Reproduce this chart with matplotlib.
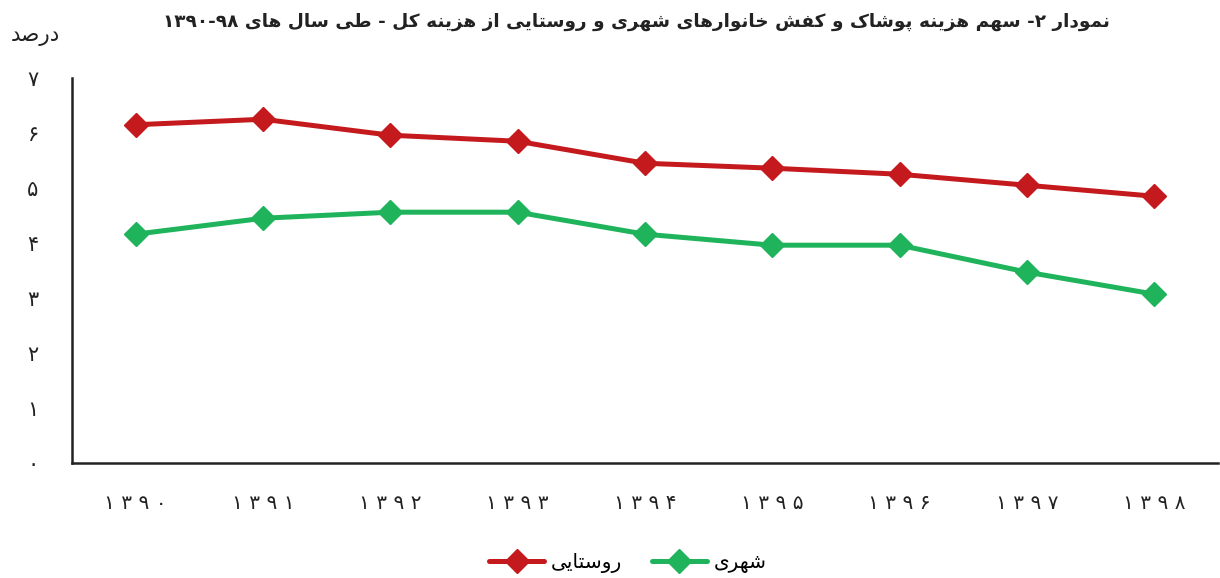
import matplotlib
matplotlib.use("Agg")
import matplotlib.pyplot as plt

# ---------------- data ----------------
years = ["۱۳۹۰", "۱۳۹۱", "۱۳۹۲", "۱۳۹۳", "۱۳۹۴", "۱۳۹۵", "۱۳۹۶", "۱۳۹۷", "۱۳۹۸"]
rural = [6.15, 6.25, 5.96, 5.85, 5.45, 5.36, 5.25, 5.05, 4.85]
urban = [4.16, 4.45, 4.56, 4.56, 4.16, 3.96, 3.96, 3.47, 3.07]
ytick_vals = [0, 1, 2, 3, 4, 5, 6, 7]
ytick_labels = ["۰", "۱", "۲", "۳", "۴", "۵", "۶", "۷"]
title_text = "نمودار ۲- سهم هزینه پوشاک و کفش خانوارهای شهری و روستایی از هزینه کل - طی سال های ۹۸-۱۳۹۰"
ylabel_text = "درصد"
rural_label = "روستایی"
urban_label = "شهری"

# ------------- minimal Persian shaping -------------
FORMS = {
    '\u0627': ('\uFE8D', '\uFE8E', None, None),
    '\u0622': ('\uFE81', '\uFE82', None, None),
    '\u0628': ('\uFE8F', '\uFE90', '\uFE91', '\uFE92'),
    '\u067E': ('\uFB56', '\uFB57', '\uFB58', '\uFB59'),
    '\u062A': ('\uFE95', '\uFE96', '\uFE97', '\uFE98'),
    '\u062B': ('\uFE99', '\uFE9A', '\uFE9B', '\uFE9C'),
    '\u062C': ('\uFE9D', '\uFE9E', '\uFE9F', '\uFEA0'),
    '\u0686': ('\uFB7A', '\uFB7B', '\uFB7C', '\uFB7D'),
    '\u062D': ('\uFEA1', '\uFEA2', '\uFEA3', '\uFEA4'),
    '\u062E': ('\uFEA5', '\uFEA6', '\uFEA7', '\uFEA8'),
    '\u062F': ('\uFEA9', '\uFEAA', None, None),
    '\u0630': ('\uFEAB', '\uFEAC', None, None),
    '\u0631': ('\uFEAD', '\uFEAE', None, None),
    '\u0632': ('\uFEAF', '\uFEB0', None, None),
    '\u0698': ('\uFB8A', '\uFB8B', None, None),
    '\u0633': ('\uFEB1', '\uFEB2', '\uFEB3', '\uFEB4'),
    '\u0634': ('\uFEB5', '\uFEB6', '\uFEB7', '\uFEB8'),
    '\u0635': ('\uFEB9', '\uFEBA', '\uFEBB', '\uFEBC'),
    '\u0636': ('\uFEBD', '\uFEBE', '\uFEBF', '\uFEC0'),
    '\u0637': ('\uFEC1', '\uFEC2', '\uFEC3', '\uFEC4'),
    '\u0638': ('\uFEC5', '\uFEC6', '\uFEC7', '\uFEC8'),
    '\u0639': ('\uFEC9', '\uFECA', '\uFECB', '\uFECC'),
    '\u063A': ('\uFECD', '\uFECE', '\uFECF', '\uFED0'),
    '\u0641': ('\uFED1', '\uFED2', '\uFED3', '\uFED4'),
    '\u0642': ('\uFED5', '\uFED6', '\uFED7', '\uFED8'),
    '\u06A9': ('\uFB8E', '\uFB8F', '\uFB90', '\uFB91'),
    '\u06AF': ('\uFB92', '\uFB93', '\uFB94', '\uFB95'),
    '\u0644': ('\uFEDD', '\uFEDE', '\uFEDF', '\uFEE0'),
    '\u0645': ('\uFEE1', '\uFEE2', '\uFEE3', '\uFEE4'),
    '\u0646': ('\uFEE5', '\uFEE6', '\uFEE7', '\uFEE8'),
    '\u0648': ('\uFEED', '\uFEEE', None, None),
    '\u0647': ('\uFEE9', '\uFEEA', '\uFEEB', '\uFEEC'),
    '\u06CC': ('\uFBFC', '\uFBFD', '\uFBFE', '\uFBFF'),
}
DIGITS = set("۰۱۲۳۴۵۶۷۸۹0123456789")


def shape(text):
    chars = list(text)
    out = []
    for i, c in enumerate(chars):
        if c not in FORMS:
            out.append(c)
            continue
        prev = chars[i - 1] if i > 0 else None
        nxt = chars[i + 1] if i + 1 < len(chars) else None
        join_prev = prev in FORMS and FORMS[prev][2] is not None
        join_next = nxt in FORMS and FORMS[c][2] is not None
        iso, fin, ini, med = FORMS[c]
        if join_prev and join_next:
            out.append(med)
        elif join_prev:
            out.append(fin)
        elif join_next:
            out.append(ini)
        else:
            out.append(iso)
    return "".join(out)


def rtl(text):
    s = shape(text)
    runs = []
    cur = ""
    for ch in s:
        if ch in DIGITS:
            cur += ch
        else:
            if cur:
                runs.append(cur)
                cur = ""
            runs.append(ch)
    if cur:
        runs.append(cur)
    return "".join(reversed(runs))


def spaced(num):
    return " ".join(list(num))


plt.rcParams['font.family'] = ['DejaVu Sans']

RED = "#C41A1E"
GREEN = "#1FB45C"
TXT = "#222222"

fig = plt.figure(figsize=(12.2, 5.78), dpi=100)
ax = fig.add_axes([72 / 1220, 1 - 463 / 578, (1218 - 72) / 1220, (463 - 78) / 578])

x = list(range(len(years)))
ax.plot(x, rural, color=RED, lw=3.6, marker="D", markersize=12,
        label=rtl(rural_label), solid_capstyle="round")
ax.plot(x, urban, color=GREEN, lw=3.6, marker="D", markersize=12,
        label=rtl(urban_label), solid_capstyle="round")

ax.set_xlim(-0.5, len(years) - 0.5)
ax.set_ylim(0, 7)
ax.set_xticks(x)
ax.set_xticklabels([spaced(rtl(y)) for y in years], fontsize=14.5, color=TXT)
ax.set_yticks(ytick_vals)
ax.set_yticklabels([rtl(t) for t in ytick_labels], fontsize=15, color=TXT)
ax.tick_params(axis="both", length=0)
ax.tick_params(axis="x", pad=22)
ax.tick_params(axis="y", pad=24)

for side in ["top", "right"]:
    ax.spines[side].set_visible(False)
for side in ["left", "bottom"]:
    ax.spines[side].set_linewidth(1.8)
    ax.spines[side].set_color(TXT)

fig.text(636 / 1220, 1 - 22 / 578, rtl(title_text), ha="center", va="center",
         fontsize=13.3, fontweight="bold", color=TXT)
fig.text(35 / 1220, 1 - 36 / 578, rtl(ylabel_text), ha="center", va="center",
         fontsize=15.5, color=TXT)

leg = fig.legend(loc="center", bbox_to_anchor=(628 / 1220, 1 - 563 / 578), ncol=2,
                 frameon=False, fontsize=14.5, handlelength=2.7, columnspacing=1.5,
                 handletextpad=0.35)

fig.savefig("out.png", dpi=100)
